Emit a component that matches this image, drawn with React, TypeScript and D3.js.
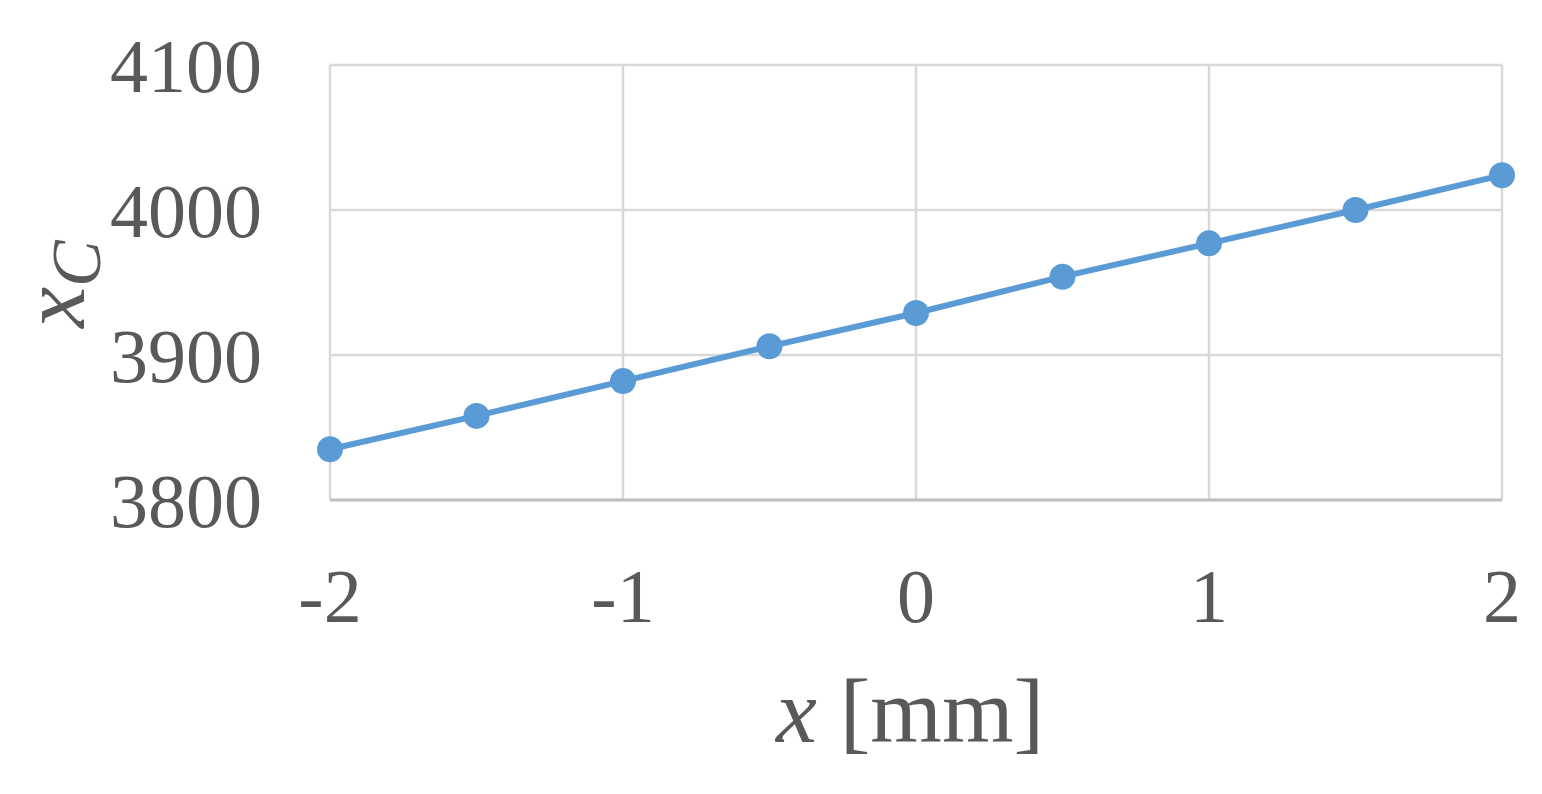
import React from 'react';
import * as d3 from 'd3';

const xValues = [-2, -1.5, -1, -0.5, 0, 0.5, 1, 1.5, 2];
const xcValues = [3835, 3858, 3882, 3906, 3929, 3954, 3977, 4000, 4024];
const xTicks = [-2, -1, 0, 1, 2];
const yTicks = [3800, 3900, 4000, 4100];

const width = 1542;
const height = 794;
const margin = { top: 65, right: 40, bottom: 294, left: 330 };

const App = () => {
  const x = d3.scaleLinear().domain([-2, 2]).range([margin.left, width - margin.right]);
  const y = d3.scaleLinear().domain([3800, 4100]).range([height - margin.bottom, margin.top]);

  const line = d3.line<number>()
    .x((_, i) => x(xValues[i]))
    .y(d => y(d));

  const font = '"Liberation Serif", "Times New Roman", serif';
  const textColor = '#595959';

  return (
    <svg width={width} height={height} style={{ position: 'absolute', left: 0, top: 0 }}>
      <rect width={width} height={height} fill="white" />
      {/* grid */}
      {yTicks.map(t => (
        <line key={'gy' + t} x1={x(-2)} x2={x(2)} y1={y(t)} y2={y(t)} stroke="#d9d9d9" strokeWidth={2.5} />
      ))}
      {xTicks.map(t => (
        <line key={'gx' + t} x1={x(t)} x2={x(t)} y1={y(4100)} y2={y(3800)} stroke="#d9d9d9" strokeWidth={2.5} />
      ))}
      <line x1={x(-2)} x2={x(2)} y1={y(3800)} y2={y(3800)} stroke="#bfbfbf" strokeWidth={3} />

      {/* series */}
      <path d={line(xcValues) ?? ''} fill="none" stroke="#5b9bd5" strokeWidth={6} />
      {xcValues.map((v, i) => (
        <circle key={i} cx={x(xValues[i])} cy={y(v)} r={13} fill="#5b9bd5" />
      ))}

      {/* y tick labels */}
      {yTicks.map(t => (
        <text key={'ty' + t} x={262} y={y(t)} dy="0.35em" textAnchor="end"
          fontFamily={font} fontSize={76} fill={textColor}>{t}</text>
      ))}
      {/* x tick labels */}
      {xTicks.map(t => (
        <text key={'tx' + t} x={x(t)} y={622} textAnchor="middle"
          fontFamily={font} fontSize={76} fill={textColor}>{t}</text>
      ))}

      {/* axis titles */}
      <text x={910} y={742} textAnchor="middle" fontFamily={font} fontSize={92} fill={textColor}>
        <tspan fontStyle="italic">x</tspan> [mm]
      </text>
      <text transform={`translate(84, 284) rotate(-90)`} textAnchor="middle"
        fontFamily={font} fontSize={92} fill={textColor}>
        <tspan fontStyle="italic">x</tspan>
        <tspan fontStyle="italic" fontSize={70} dy={16}>C</tspan>
      </text>
    </svg>
  );
};

export default App;
